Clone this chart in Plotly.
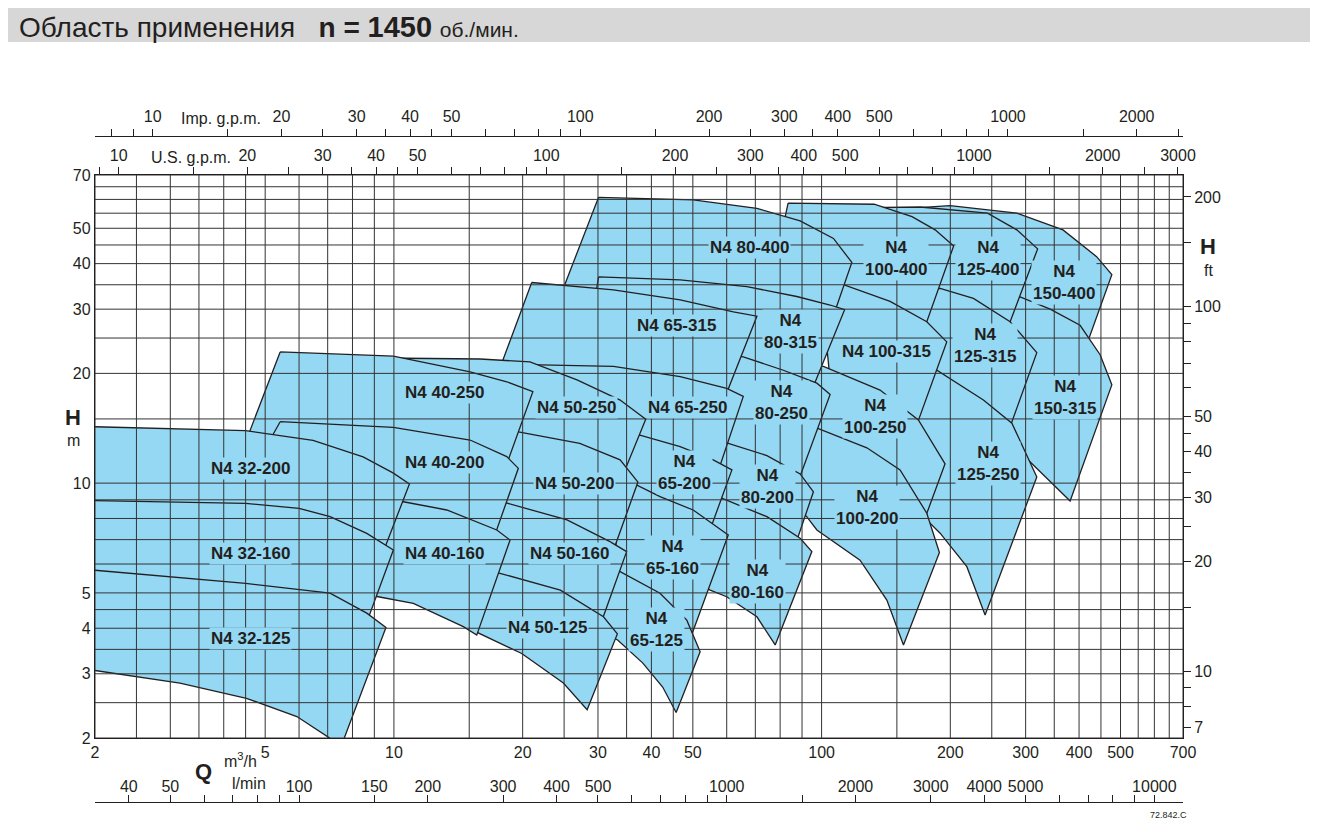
import math
import plotly.graph_objects as go

# Pump operating fields, N4 series at 1450 rpm.
# Each outline: top curve (max impeller) left->right, right edge down to the
# lowest point, then min-impeller curve back to the left. Q in m3/h, H in m.
N4_32_125_Q = [1.9, 4.5, 7.09, 8.64, 9.58, 7.4, 7.07, 5.93, 4.52, 3.16, 1.9]
N4_32_125_H = [5.8, 5.31, 4.99, 4.40, 4.02, 1.8, 2.0, 2.29, 2.57, 2.83, 3.09]
N4_32_160_Q = [1.9, 4.5, 6.0, 7.09, 8.64, 9.97, 8.59, 7.0, 4.5, 1.9]
N4_32_160_H = [8.97, 8.8, 8.53, 8.09, 7.28, 6.56, 4.08, 4.5, 5.0, 5.4]
N4_32_200_Q = [1.9, 4.5, 6.47, 8.47, 9.95, 10.87, 9.38, 8.0, 4.5, 1.9]
N4_32_200_H = [14.3, 13.93, 13.1, 11.8, 10.67, 9.95, 6.35, 7.0, 8.3, 8.5]

N4_40_160_Q = [9.0, 10.52, 13.29, 17.4, 18.69, 15.62, 14.53, 11.1, 9.19, 8.0]
N4_40_160_H = [9.0, 8.89, 8.44, 7.44, 6.98, 3.83, 4.04, 4.68, 4.88, 5.0]
N4_40_200_Q = [5.42, 9.97, 15.07, 18.36, 19.54, 16.9, 13.3, 10.5, 8.5, 5.13]
N4_40_200_H = [14.74, 14.23, 13.13, 11.82, 10.98, 6.77, 7.93, 8.44, 9.5, 13.13]
N4_40_250_Q = [5.42, 9.97, 15.07, 18.36, 21.13, 17.96, 13.3, 6.0, 4.47]
N4_40_250_H = [22.9, 22.3, 20.2, 18.97, 17.82, 10.5, 11.9, 12.5, 12.7]

N4_50_125_Q = [15.9, 17.7, 24.5, 30.9, 33.3, 28.3, 24.9, 19.9, 15.7, 15.07]
N4_50_125_H = [5.78, 5.66, 5.09, 4.30, 3.86, 2.39, 2.83, 3.41, 3.89, 4.21]
N4_50_160_Q = [15.9, 18.4, 25.4, 32.0, 35.0, 30.1, 24.5, 17.7, 15.5]
N4_50_160_H = [8.99, 8.81, 7.93, 6.91, 6.49, 3.96, 4.78, 5.26, 5.43]
N4_50_200_Q = [16.8, 19.4, 27.2, 33.8, 37.2, 32.5, 25.4, 18.4, 17.2]
N4_50_200_H = [14.17, 13.84, 12.86, 11.58, 10.07, 6.47, 7.44, 8.34, 8.99]
N4_50_250_Q = [9.28, 15.9, 20.8, 26.8, 33.8, 38.8, 34.7, 27.2, 19.4, 18.2]
N4_50_250_H = [22.04, 21.9, 21.5, 19.2, 16.9, 14.97, 10.87, 11.9, 12.7, 13.13]

N4_65_125_Q = [31.2, 33.8, 41.9, 48.4, 52.0, 45.7, 42.5, 38.2, 33.4, 30.3]
N4_65_125_H = [5.85, 5.72, 4.99, 4.21, 3.45, 2.35, 2.76, 3.21, 3.71, 3.96]
N4_65_160_Q = [34.2, 37.0, 41.9, 50.1, 60.5, 48.7, 41.9, 32.4]
N4_65_160_H = [10.0, 9.88, 9.18, 8.44, 7.21, 3.6, 4.63, 5.43]
N4_65_200_Q = [32.9, 37.6, 46.7, 55.8, 61.7, 54.3, 50.1, 41.9, 37.0, 33.8]
N4_65_200_H = [13.5, 13.55, 12.6, 11.58, 10.87, 7.21, 7.93, 8.71, 9.4, 10.2]
N4_65_250_Q = [17.2, 22.0, 32.6, 46.7, 60.0, 65.6, 56.4, 46.7, 37.6, 30.3]
N4_65_250_H = [21.1, 21.1, 20.9, 19.6, 18.2, 17.3, 10.2, 11.7, 12.7, 13.1]
N4_65_315_Q = [21.0, 32.6, 46.7, 62.2, 70.6, 58.5, 46.7, 32.6, 22.0, 17.7]
N4_65_315_H = [35.5, 33.9, 31.8, 29.5, 28.7, 16.4, 18.6, 19.8, 20.2, 20.7]

N4_80_160_Q = [53.4, 58.4, 74.5, 89.1, 94.9, 77.9, 70.6, 60.0, 54.9, 52.0]
N4_80_160_H = [9.28, 9.09, 8.09, 7.06, 6.49, 3.6, 4.30, 4.88, 5.09, 5.26]
N4_80_200_Q = [52.0, 60.0, 74.5, 89.1, 95.7, 87.6, 71.8, 56.4]
N4_80_200_H = [13.1, 12.9, 11.9, 10.6, 9.47, 6.98, 7.93, 8.99]
N4_80_250_Q = [52.0, 65.6, 81.4, 97.5, 104.7, 86.7, 71.8, 52.0]
N4_80_250_H = [23.2, 22.2, 20.4, 18.8, 17.5, 9.58, 11.58, 12.7]
N4_80_315_Q = [30.1, 46.7, 66.9, 87.5, 104.7, 113.2, 94.0, 80.0, 57.9, 29.7]
N4_80_315_H = [36.8, 36.1, 34.6, 32.5, 30.8, 29.9, 17.5, 19.8, 21.1, 33.4]
N4_80_400_Q = [30.1, 50.1, 70.6, 89.1, 106.6, 117.7, 104.7, 80.0, 52.0, 33.8, 24.7]
N4_80_400_H = [60.8, 59.8, 56.7, 52.4, 46.9, 40.3, 27.1, 31.8, 33.9, 32.8, 33.4]

N4_100_200_Q = [89.1, 98.3, 127.6, 152.6, 176.2, 188.6, 155.4, 142.1, 123.0, 97.5, 92.3, 86.7]
N4_100_200_H = [14.4, 14.1, 12.5, 10.87, 8.27, 6.45, 3.6, 4.78, 6.15, 7.44, 8.09, 8.71]
N4_100_250_Q = [89.1, 101.0, 137.0, 168.4, 194.4, 171.5, 137.0, 101.9, 89.1]
N4_100_250_H = [21.1, 20.9, 18.0, 14.9, 11.3, 7.58, 10.2, 13.1, 14.9]
N4_100_315_Q = [99.2, 112.5, 144.6, 176.2, 196.2, 164.6, 137.0, 104.7, 101.9]
N4_100_315_H = [33.9, 35.0, 31.5, 27.7, 24.4, 13.8, 16.9, 19.2, 26.3]
N4_100_400_Q = [83.5, 132.7, 162.7, 184.3, 203.6, 171.8, 144.6, 107.6, 80.0]
N4_100_400_H = [58.6, 58.2, 53.8, 49.5, 44.7, 25.5, 29.9, 32.8, 46.4]

N4_125_250_Q = [165.5, 186.0, 239.0, 278.6, 318.6, 241.2, 218.6, 189.3, 176.2, 165.5]
N4_125_250_H = [20.4, 20.4, 16.9, 14.6, 10.4, 4.35, 5.9, 7.29, 7.93, 8.99]
N4_125_315_Q = [170.0, 189.3, 226.5, 276.0, 318.6, 271.6, 222.5, 179.4, 161.1]
N4_125_315_H = [33.9, 34.2, 32.1, 27.7, 22.8, 13.55, 16.4, 19.2, 28.0]
N4_125_400_Q = [116.6, 170.0, 244.3, 286.1, 320.0, 268.7, 228.6, 179.4, 137.0]
N4_125_400_H = [56.9, 57.2, 55.0, 49.5, 43.9, 25.5, 29.9, 32.8, 51.1]

N4_150_315_Q = [261.6, 291.2, 342.4, 402.2, 448.0, 477.2, 381.2, 342.4, 299.2, 261.6]
N4_150_315_H = [31.8, 32.4, 30.0, 27.1, 22.5, 18.6, 8.93, 10.1, 11.8, 13.1]
N4_150_400_Q = [137.0, 199.8, 286.1, 366.8, 439.6, 477.2, 408.8, 342.4, 268.7, 199.8]
N4_150_400_H = [56.1, 57.7, 55.0, 49.5, 41.8, 37.3, 22.5, 26.3, 31.8, 52.7]

# smallest first; drawn in reverse so small pumps / left families sit on top
PUMPS = ["32-125", "32-160", "32-200", "40-160", "40-200", "40-250",
         "50-125", "50-160", "50-200", "50-250",
         "65-125", "65-160", "65-200", "65-250", "65-315",
         "80-160", "80-200", "80-250", "80-315", "80-400",
         "100-200", "100-250", "100-315", "100-400",
         "125-250", "125-315", "125-400", "150-315", "150-400"]

# label text and where it sits (Q, H)
LABEL_TEXT = ["N4 32-125", "N4 32-160", "N4 32-200", "N4 40-160", "N4 40-200", "N4 40-250",
              "N4 50-125", "N4 50-160", "N4 50-200", "N4 50-250",
              "N4<br>65-125", "N4<br>65-160", "N4<br>65-200", "N4 65-250", "N4 65-315",
              "N4<br>80-160", "N4<br>80-200", "N4<br>80-250", "N4<br>80-315", "N4 80-400",
              "N4<br>100-200", "N4<br>100-250", "N4 100-315", "N4<br>100-400",
              "N4<br>125-250", "N4<br>125-315", "N4<br>125-400", "N4<br>150-315", "N4<br>150-400"]
LABEL_Q = [4.61, 4.61, 4.61, 13.1, 13.1, 13.1,
           22.9, 25.8, 26.5, 26.7,
           41.2, 44.7, 47.7, 48.7, 45.9,
           71.0, 74.6, 80.4, 84.4, 68.0,
           127.8, 133.4, 141.5, 149.4,
           245.2, 241.2, 245.2, 371.2, 369.2]
LABEL_H = [3.74, 6.43, 11.0, 6.43, 11.4, 17.7,
           4.01, 6.43, 10.0, 16.1,
           3.96, 6.27, 10.7, 16.1, 27.0,
           5.36, 9.76, 16.6, 26.0, 44.4,
           8.55, 15.2, 22.9, 41.4,
           11.3, 23.8, 41.4, 17.2, 35.6]

# grid and axis ticks
GRID_Q = [2, 2.5, 3, 3.5, 4, 4.5, 5, 6, 7, 8, 9, 10, 15, 20, 25, 30, 35, 40, 45, 50,
          60, 70, 80, 90, 100, 150, 200, 250, 300, 350, 400, 450, 500, 550, 600, 650, 700]
GRID_H = [2, 2.5, 3, 3.5, 4, 4.5, 5, 6, 7, 8, 9, 10, 15, 20, 25, 30, 35, 40, 45, 50, 55, 60, 65, 70]
Q_TICKS = [2, 5, 10, 20, 30, 40, 50, 100, 200, 300, 400, 500, 700]
H_TICKS = [2, 3, 4, 5, 10, 20, 30, 40, 50, 70]
LMIN_TICKS = [40, 50, 60, 70, 80, 90, 100, 150, 200, 300, 400, 500, 600, 700, 800, 900,
              1000, 1500, 2000, 3000, 4000, 5000, 6000, 7000, 8000, 9000, 10000]
LMIN_LABELS = [40, 50, 100, 150, 200, 300, 400, 500, 1000, 2000, 3000, 4000, 5000, 10000]
USGPM_TICKS = [9, 10, 15, 20, 25, 30, 35, 40, 45, 50, 60, 70, 80, 90, 100, 150, 200, 250,
               300, 350, 400, 500, 600, 700, 800, 900, 1000, 1500, 2000, 2500, 3000]
USGPM_LABELS = [10, 20, 30, 40, 50, 100, 200, 300, 400, 500, 1000, 2000, 3000]
IMPGPM_TICKS = [8, 9, 10, 15, 20, 25, 30, 35, 40, 45, 50, 60, 70, 80, 90, 100, 150, 200, 250,
                300, 350, 400, 500, 600, 700, 800, 900, 1000, 1500, 2000, 2500]
IMPGPM_LABELS = [10, 20, 30, 40, 50, 100, 200, 300, 400, 500, 1000, 2000]
FT_TICKS = [7, 8, 9, 10, 15, 20, 25, 30, 35, 40, 45, 50, 60, 70, 80, 90, 100, 150, 200]
FT_LABELS = [7, 10, 20, 30, 40, 50, 100, 200]

Q_MIN, Q_MAX = 2, 700
H_MIN, H_MAX = 2, 70
TO_LMIN = 1000 / 60
TO_USGPM = 4.4029
TO_IMPGPM = 3.6662
TO_FT = 3.28084

FILL = "#94d8f3"
INK = "#231f20"
FONT = "Liberation Sans, Arial, Helvetica, sans-serif"

OUTLINES = {
    "32-125": (N4_32_125_Q, N4_32_125_H), "32-160": (N4_32_160_Q, N4_32_160_H),
    "32-200": (N4_32_200_Q, N4_32_200_H), "40-160": (N4_40_160_Q, N4_40_160_H),
    "40-200": (N4_40_200_Q, N4_40_200_H), "40-250": (N4_40_250_Q, N4_40_250_H),
    "50-125": (N4_50_125_Q, N4_50_125_H), "50-160": (N4_50_160_Q, N4_50_160_H),
    "50-200": (N4_50_200_Q, N4_50_200_H), "50-250": (N4_50_250_Q, N4_50_250_H),
    "65-125": (N4_65_125_Q, N4_65_125_H), "65-160": (N4_65_160_Q, N4_65_160_H),
    "65-200": (N4_65_200_Q, N4_65_200_H), "65-250": (N4_65_250_Q, N4_65_250_H),
    "65-315": (N4_65_315_Q, N4_65_315_H), "80-160": (N4_80_160_Q, N4_80_160_H),
    "80-200": (N4_80_200_Q, N4_80_200_H), "80-250": (N4_80_250_Q, N4_80_250_H),
    "80-315": (N4_80_315_Q, N4_80_315_H), "80-400": (N4_80_400_Q, N4_80_400_H),
    "100-200": (N4_100_200_Q, N4_100_200_H), "100-250": (N4_100_250_Q, N4_100_250_H),
    "100-315": (N4_100_315_Q, N4_100_315_H), "100-400": (N4_100_400_Q, N4_100_400_H),
    "125-250": (N4_125_250_Q, N4_125_250_H), "125-315": (N4_125_315_Q, N4_125_315_H),
    "125-400": (N4_125_400_Q, N4_125_400_H), "150-315": (N4_150_315_Q, N4_150_315_H),
    "150-400": (N4_150_400_Q, N4_150_400_H),
}


def lg(v):
    return math.log10(v)


def tick_text(ticks, labels):
    return [str(t) if t in labels else "" for t in ticks]


fig = go.Figure()

# pump fields
for name in reversed(PUMPS):
    q, h = OUTLINES[name]
    fig.add_trace(go.Scatter(
        x=q + [q[0]], y=h + [h[0]], mode="lines", fill="toself",
        fillcolor=FILL, line=dict(color=INK, width=1.3),
        hoverinfo="skip", showlegend=False))

# grid drawn over the fields, like the printed sheet
gx, gy = [], []
for g in GRID_Q:
    gx += [g, g, None]
    gy += [H_MIN, H_MAX, None]
for g in GRID_H:
    gx += [Q_MIN, Q_MAX, None]
    gy += [g, g, None]
fig.add_trace(go.Scatter(x=gx, y=gy, mode="lines", line=dict(color="#333333", width=1),
                         hoverinfo="skip", showlegend=False))

# pump labels
for txt, q, h in zip(LABEL_TEXT, LABEL_Q, LABEL_H):
    fig.add_annotation(x=lg(q), y=lg(h), xref="x", yref="y", text=f"<b>{txt}</b>",
                       showarrow=False, font=dict(size=17, color=INK),
                       bgcolor=FILL, borderpad=1)

tick_font = dict(size=16, color=INK)
y_dom = [(802 - 738) / 666, (802 - 175) / 666]

# the page body adds an 8 px offset, margins compensate for it
fig.update_layout(
    width=1318, height=837,
    margin=dict(l=87, r=143, t=128, b=43),
    template="none",
    paper_bgcolor="white", plot_bgcolor="white",
    font=dict(family=FONT, color=INK),
    showlegend=False,
    xaxis=dict(type="log", range=[lg(Q_MIN), lg(Q_MAX)], domain=[0, 1], anchor="y",
               tickvals=Q_TICKS, ticktext=[str(t) for t in Q_TICKS], ticks="",
               tickangle=0, showgrid=False, zeroline=False, showline=True, mirror=True,
               linecolor=INK, linewidth=1.3, tickfont=tick_font),
    xaxis2=dict(type="log", overlaying="x", side="top", anchor="y",
                range=[lg(Q_MIN * TO_USGPM), lg(Q_MAX * TO_USGPM)],
                tickvals=USGPM_TICKS, ticktext=tick_text(USGPM_TICKS, USGPM_LABELS),
                ticks="outside", ticklen=7, tickcolor=INK, tickangle=0, showgrid=False,
                zeroline=False, showline=False, tickfont=tick_font),
    xaxis3=dict(type="log", overlaying="x", side="top", anchor="free", position=1,
                range=[lg(Q_MIN * TO_IMPGPM), lg(Q_MAX * TO_IMPGPM)],
                tickvals=IMPGPM_TICKS, ticktext=tick_text(IMPGPM_TICKS, IMPGPM_LABELS),
                ticks="outside", ticklen=7, tickcolor=INK, tickangle=0, showgrid=False,
                zeroline=False, showline=True, linecolor=INK, linewidth=1.3,
                tickfont=tick_font),
    xaxis4=dict(type="log", overlaying="x", side="bottom", anchor="free", position=0,
                range=[lg(Q_MIN * TO_LMIN), lg(Q_MAX * TO_LMIN)],
                tickvals=LMIN_TICKS, ticktext=tick_text(LMIN_TICKS, LMIN_LABELS),
                ticks="inside", ticklen=7, tickcolor=INK, ticklabelposition="inside",
                tickangle=0, showgrid=False, zeroline=False, showline=True, linecolor=INK,
                linewidth=1.3, tickfont=tick_font),
    yaxis=dict(type="log", range=[lg(H_MIN), lg(H_MAX)], domain=y_dom, anchor="x",
               tickvals=H_TICKS, ticktext=[str(t) for t in H_TICKS], ticks="",
               showgrid=False, zeroline=False, showline=True, mirror=True,
               linecolor=INK, linewidth=1.3, tickfont=tick_font),
    yaxis2=dict(type="log", overlaying="y", side="right", anchor="x",
                range=[lg(H_MIN * TO_FT), lg(H_MAX * TO_FT)],
                tickvals=FT_TICKS, ticktext=tick_text(FT_TICKS, FT_LABELS),
                ticks="outside", ticklen=7, tickcolor=INK, showgrid=False,
                zeroline=False, showline=False, tickfont=tick_font),
)

# empty traces so the secondary axes get drawn
for xa, ya in [("x2", "y"), ("x3", "y"), ("x4", "y"), ("x", "y2")]:
    fig.add_trace(go.Scatter(x=[None], y=[None], xaxis=xa, yaxis=ya,
                             hoverinfo="skip", showlegend=False))

# header band
fig.add_shape(type="rect", xref="paper", yref="paper",
              x0=(8 - 95) / 1088, x1=(1312 - 95) / 1088,
              y0=(802 - 42) / 666, y1=(802 - 8) / 666,
              fillcolor="#d7d7d7", line=dict(width=0), layer="below")
fig.add_annotation(
    xref="paper", yref="paper", x=(17 - 95) / 1088, y=(802 - 27) / 666,
    xanchor="left", yanchor="middle", showarrow=False,
    text="Область применения\u00a0\u00a0 <b>n = <span style='font-size:29px'>1450</span></b>"
         " <span style='font-size:21px'>об./мин.</span>",
    font=dict(size=28, color=INK))


def paper_note(text, px, py, size=16, anchor="center"):
    fig.add_annotation(xref="paper", yref="paper", x=(px - 95) / 1088, y=(802 - py) / 666,
                       xanchor=anchor, yanchor="middle", showarrow=False, text=text,
                       font=dict(size=size, color=INK))


paper_note("Imp. g.p.m.", 221, 118)
paper_note("U.S. g.p.m.", 191, 157)
paper_note("m<sup>3</sup>/h", 259, 760, anchor="right")
paper_note("<b>Q</b>", 203, 771, size=22)
paper_note("l/min", 230, 783, anchor="left")
paper_note("<b>H</b>", 73, 417, size=22)
paper_note("m", 73, 441)
paper_note("<b>H</b>", 1208, 246, size=22)
paper_note("ft", 1208, 270)
paper_note("72.842.C", 1168, 815, size=9)

fig.write_html("out.html")
